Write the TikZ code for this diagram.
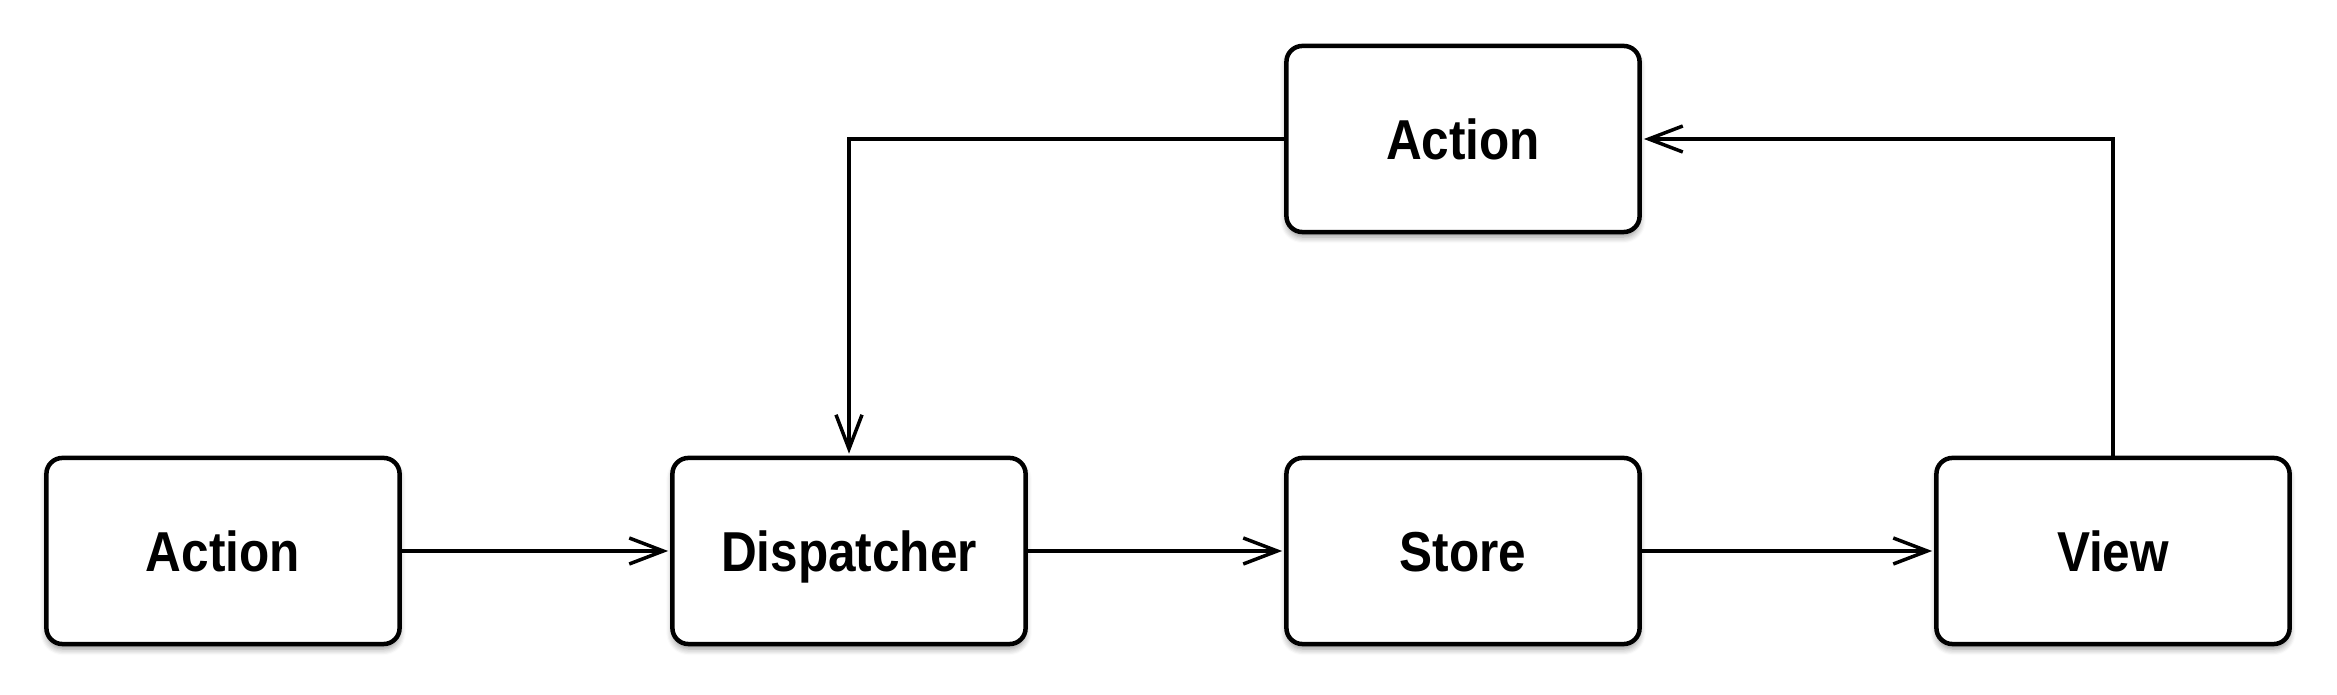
\documentclass[tikz,border=0pt]{standalone}
\usepackage{fontspec}
\newfontfamily\boxfont[FakeStretch=0.88]{Liberation Sans}
\usetikzlibrary{arrows.meta,positioning,shadows.blur}

\tikzset{
	flowbox/.style={draw, line width=0.045cm, rounded corners=0.16cm, fill=white,
		minimum width=3.53cm, minimum height=1.86cm, text height=11.6pt, text depth=0pt,
		font=\boxfont\bfseries\fontsize{16}{19}\selectfont,
		blur shadow={shadow xshift=0cm, shadow yshift=-0.05cm, shadow blur steps=6, shadow opacity=40}},
	flowline/.style={line width=0.035cm, -{Straight Barb[length=0.34cm, width=0.26cm, line width=0.035cm]}, shorten >=0.02cm}
}

\begin{document}
\begin{tikzpicture}[x=0.01cm, y=-0.01cm]
		%%%%% START %%%%%
		
		\useasboundingbox (0, 0) rectangle (2337, 695);
		
		\node[flowbox] (act) at (223, 551) {Action};
		\node[flowbox] (disp) at (849, 551) {Dispatcher};
		\node[flowbox] (store) at (1463, 551) {Store};
		\node[flowbox] (view) at (2113, 551) {View};
		
		\node[flowbox] (act2) at (1463, 139) {Action};
		
		\draw[flowline] (act) -- (disp);
		\draw[flowline] (disp) -- (store);
		\draw[flowline] (store) -- (view);
		
		\draw[flowline] (view.north) |- (act2.east);
		\draw[flowline] (act2.west) -| (disp.north);
		
		%%%%% END %%%%%
	\end{tikzpicture}
\end{document}
